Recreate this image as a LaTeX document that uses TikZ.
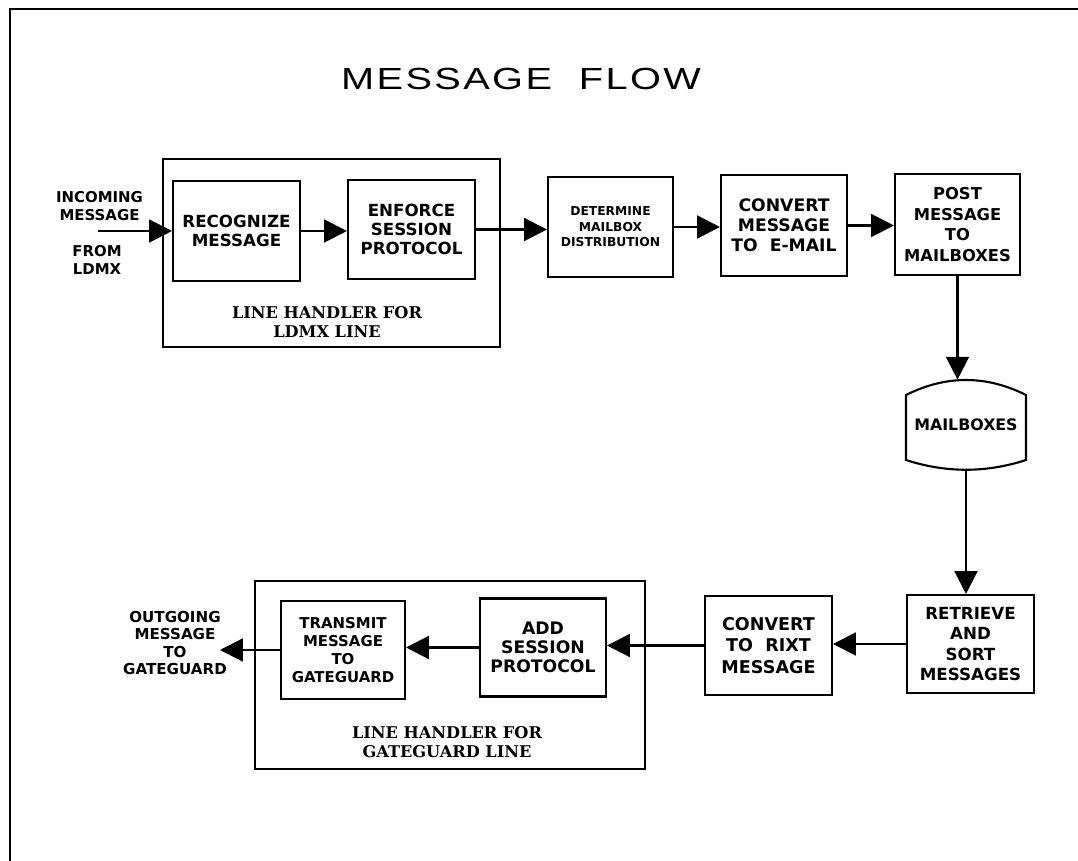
\documentclass[tikz,border=0pt]{standalone}
\usepackage{fontspec}
\usepackage{graphicx}
\usetikzlibrary{arrows.meta}
\newfontfamily\boxfont{DejaVu Sans}
\newfontfamily\serlab{DejaVu Serif}
\newfontfamily\titlefont[LetterSpace=6]{Liberation Sans}
\begin{document}
\begin{tikzpicture}[x=0.02cm,y=-0.02cm,
  bx/.style={draw,line width=1.2pt,align=center,inner sep=1pt,font=\boxfont\bfseries},
  outerbox/.style={draw,line width=1.2pt},
  lab/.style={align=center,font=\serlab\bfseries\fontsize{9.2}{10.6}\selectfont},
  side/.style={align=center,inner sep=0pt,font=\boxfont\bfseries\fontsize{8.5}{10.2}\selectfont},
  arr/.style={draw,line width=1.3pt,-{Triangle[length=13pt,width=13pt]}}]
\useasboundingbox (0,0) rectangle (1078,861);
% page frame
\draw[line width=1.3pt] (10,861) -- (10,9) -- (1078,9);
% title
\node (title) at (521,79) {\titlefont\fontsize{17.4}{20}\selectfont\scalebox{1.3}[1]{MESSAGE\ \ FLOW}};
% outer handler boxes
\node[outerbox,minimum width=6.74cm,minimum height=3.76cm] (ldmx) at (331.5,253) {};
\node[outerbox,minimum width=7.8cm,minimum height=3.76cm] (gate) at (450,675) {};
\node[lab] (lab1) at (327,322) {LINE HANDLER FOR\\LDMX LINE};
\node[lab] (lab2) at (447,742) {LINE HANDLER FOR\\GATEGUARD LINE};
% top row
\node[bx,minimum width=2.54cm,minimum height=2.0cm,font=\boxfont\bfseries\fontsize{9.5}{11}\selectfont] (rec) at (236.5,231) {RECOGNIZE\\MESSAGE};
\node[bx,minimum width=2.54cm,minimum height=1.98cm,font=\boxfont\bfseries\fontsize{9.5}{10.8}\selectfont] (enf) at (411.5,229.5) {ENFORCE\\SESSION\\PROTOCOL};
\node[bx,minimum width=2.5cm,minimum height=2.0cm,font=\boxfont\bfseries\fontsize{7}{8.8}\selectfont] (det) at (610.5,227) {DETERMINE\\MAILBOX\\DISTRIBUTION};
\node[bx,minimum width=2.52cm,minimum height=2.02cm,font=\boxfont\bfseries\fontsize{9.8}{11.3}\selectfont] (cem) at (784,225.5) {CONVERT\\MESSAGE\\TO\ \ E-MAIL};
\node[bx,minimum width=2.5cm,minimum height=2.02cm,font=\boxfont\bfseries\fontsize{9.3}{11.7}\selectfont] (post) at (957.5,224.5) {POST\\MESSAGE\\TO\\MAILBOXES};
% mailboxes store
\node[align=center,minimum width=2.42cm,minimum height=1.8cm,inner sep=0pt,font=\boxfont\bfseries\fontsize{9}{11}\selectfont] (mb) at (966,425) {MAILBOXES};
\draw[line width=1.2pt] (906,395) .. controls (946,375) and (986,375) .. (1026,395)
  -- (1026,460) .. controls (986,473) and (946,473) .. (906,460) -- cycle;
% bottom row
\node[bx,minimum width=2.54cm,minimum height=1.96cm,font=\boxfont\bfseries\fontsize{9.5}{11.7}\selectfont] (ret) at (970.5,644) {RETRIEVE\\AND\\SORT\\MESSAGES};
\node[bx,minimum width=2.54cm,minimum height=1.98cm,font=\boxfont\bfseries\fontsize{10}{12.3}\selectfont] (rix) at (768.5,645.5) {CONVERT\\TO\ \ RIXT\\MESSAGE};
\node[bx,minimum width=2.52cm,minimum height=1.96cm,font=\boxfont\bfseries\fontsize{9.8}{10.8}\selectfont] (add) at (543,647.5) {ADD\\SESSION\\PROTOCOL};
\node[bx,minimum width=2.48cm,minimum height=1.96cm,font=\boxfont\bfseries\fontsize{8.5}{10.4}\selectfont] (trn) at (343,650) {TRANSMIT\\MESSAGE\\TO\\GATEGUARD};
% side texts
\node[side] (inc) at (99.5,206) {INCOMING\\MESSAGE};
\node[side] (from) at (97,259.5) {FROM\\LDMX};
\node[side,font=\boxfont\bfseries\fontsize{8.6}{10}\selectfont] (outg) at (175,643) {OUTGOING\\MESSAGE\\TO\\GATEGUARD};
\coordinate (in) at (98,231);
\coordinate (out) at (220,650);
% connectors
\draw[arr] (in) -- (rec.west |- in);
\draw[arr] (rec.east) -- (rec.east -| enf.west);
\draw[arr] (enf.east) -- (enf.east -| det.west);
\draw[arr] (det.east) -- (det.east -| cem.west);
\draw[arr] (cem.east) -- (cem.east -| post.west);
\draw[arr] (post.south) -- (post.south |- mb.north);
\draw[arr] (mb.south) -- (mb.south |- ret.north);
\draw[arr] (ret.west) -- (ret.west -| rix.east);
\draw[arr] (rix.west) -- (rix.west -| add.east);
\draw[arr] (add.west) -- (add.west -| trn.east);
\draw[arr] (trn.west) -- (out);
\end{tikzpicture}
\end{document}
